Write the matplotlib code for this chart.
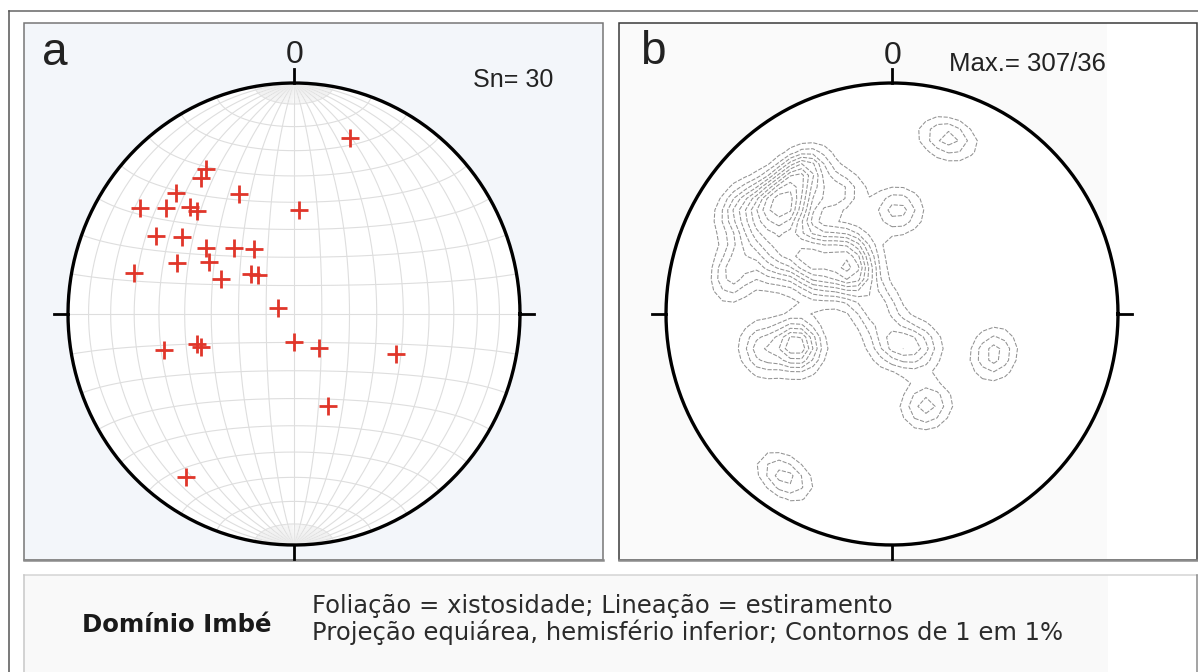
import numpy as np
import matplotlib
matplotlib.use('Agg')
import matplotlib.pyplot as plt
from matplotlib.patches import Rectangle

# --- poles to foliation (trend / plunge in degrees) ---
trend = [18, 328, 325, 315, 304, 309, 315, 316, 335, 3,
         299, 304, 306, 301, 317, 328, 293, 284, 295, 312,
         317, 290, 180, 143, 111, 255, 253, 251, 159, 214]
plunge = [21, 27, 29, 27, 19, 28, 35, 38, 42, 53,
          31, 40, 50, 54, 58, 63, 43, 28, 61, 69,
          71, 84, 80, 75, 50, 40, 53, 54, 55, 16]

n_label = 'Sn= 30'
max_label = 'Max.= 307/36'
north_label = '0'
domain = 'Domínio Imbé'
caption = ['Foliação = xistosidade; Lineação = estiramento',
           'Projeção equiárea, hemisfério inferior; Contornos de 1 em 1%']
contour_step = 1.0      # %
kernel_sigma = 5.5      # deg, smoothing of the counting

W, H = 1198, 672
fig = plt.figure(figsize=(W / 100, H / 100), dpi=100)
fig.patch.set_facecolor('white')

# --- background boxes / frame in pixel coordinates ---
bg = fig.add_axes([0, 0, 1, 1])
bg.set_xlim(0, W)
bg.set_ylim(H, 0)
bg.axis('off')

bg.plot([9, W], [11, 11], color='#666666', lw=1.1)
bg.plot([9, 9], [11, H], color='#555555', lw=1.1)

bg.add_patch(Rectangle((24, 23), 579, 537, facecolor='#f3f6fa',
                       edgecolor='#767676', lw=1.1))
bg.add_patch(Rectangle((619, 23), 488, 537, facecolor='#fafafa', edgecolor='none'))
bg.add_patch(Rectangle((1107, 23), 90, 537, facecolor='white', edgecolor='none'))
bg.add_patch(Rectangle((619, 23), 578, 537, facecolor='none',
                       edgecolor='#3a3a3a', lw=1.1))
bg.plot([24, 603], [560, 560], color='#8a8a8a', lw=1.8)
bg.plot([619, 1197], [560, 560], color='#8a8a8a', lw=1.8)

bg.add_patch(Rectangle((24, 575), 1084, 97, facecolor='#f9f9f9', edgecolor='none'))
bg.plot([24, 1197], [575, 575], color='#d4d4d4', lw=1.1)
bg.plot([24, 24], [575, H], color='#c8c8c8', lw=1.1)
bg.plot([1197, 1197], [575, H], color='#8a8a8a', lw=1.1)

lab_font = 'Liberation Sans'
bg.text(42, 65, 'a', fontsize=33, family=lab_font, color='#222222')
bg.text(640, 64, 'b', fontsize=33, family=lab_font, color='#222222')
bg.text(295, 63, north_label, fontsize=23, family=lab_font, color='#222222', ha='center')
bg.text(893, 64, north_label, fontsize=23, family=lab_font, color='#222222', ha='center')
bg.text(473, 87, n_label, fontsize=18, family=lab_font, color='#222222')
bg.text(949, 71, max_label, fontsize=18.5, family=lab_font, color='#222222')

bg.text(82, 632, domain, fontsize=17.6, fontweight='bold', family='DejaVu Sans',
        color='#1a1a1a')
bg.text(312, 613, caption[0], fontsize=17.5, family='DejaVu Sans', color='#2b2b2b')
bg.text(312, 640, caption[1], fontsize=17.5, family='DejaVu Sans', color='#2b2b2b')


def net_axes(cx, cy, rx, ry, pad=1.2):
    ax = fig.add_axes([(cx - pad * rx) / W, 1 - (cy + pad * ry) / H,
                       2 * pad * rx / W, 2 * pad * ry / H])
    ax.set_xlim(-pad, pad)
    ax.set_ylim(-pad, pad)
    ax.axis('off')
    t = np.linspace(0, 2 * np.pi, 500)
    ax.fill(np.cos(t), np.sin(t), color='white', zorder=0)
    ax.plot(np.cos(t), np.sin(t), color='black', lw=2.4, zorder=6)
    tk = 0.062
    for x0, y0, x1, y1 in [(0, 1, 0, 1 + tk), (0, -1, 0, -1 - tk),
                           (1, 0, 1 + tk, 0), (-1, 0, -1 - tk, 0)]:
        ax.plot([x0, x1], [y0, y1], color='black', lw=2.0, zorder=6)
    return ax


def schmidt(lon, lat):
    lon = np.radians(lon)
    lat = np.radians(lat)
    k = np.sqrt(2 / (1 + np.cos(lat) * np.cos(lon)))
    return k * np.cos(lat) * np.sin(lon) / np.sqrt(2), k * np.sin(lat) / np.sqrt(2)


def project(tr, pl):
    tr = np.radians(np.asarray(tr, float))
    pl = np.radians(np.asarray(pl, float))
    r = np.sqrt(2) * np.sin((np.pi / 2 - pl) / 2)
    return r * np.sin(tr), r * np.cos(tr)


# --- panel a: Schmidt net + poles ---
ax_a = net_axes(294, 314, 226, 231)
grid_kw = dict(color='#dedede', lw=0.8, zorder=1)
lat = np.linspace(-90, 90, 181)
lon = np.linspace(-90, 90, 181)
for lo in range(-80, 90, 10):
    ax_a.plot(*schmidt(np.full_like(lat, lo), lat), **grid_kw)
for la in range(-80, 90, 10):
    ax_a.plot(*schmidt(lon, np.full_like(lon, la)), **grid_kw)
cap = np.linspace(80, 90, 20)
for lo in range(-88, 90, 2):
    if lo % 10 == 0:
        continue
    ax_a.plot(*schmidt(np.full_like(cap, lo), cap), color='#ececec', lw=0.35, zorder=1)
    ax_a.plot(*schmidt(np.full_like(cap, lo), -cap), color='#ececec', lw=0.35, zorder=1)

px, py = project(trend, plunge)
ax_a.plot(px, py, linestyle='none', marker='+', markersize=13,
          markeredgewidth=2.0, color='#e0362a', zorder=7)

# --- panel b: density contours of the same poles ---
ax_b = net_axes(892, 314, 226, 231)
g = np.linspace(-1, 1, 41)
GX, GY = np.meshgrid(g, g)
GR = np.hypot(GX, GY)
inside = GR <= 1.0
gpl = np.pi / 2 - 2 * np.arcsin(np.clip(GR, 0, 1) / np.sqrt(2))
gtr = np.arctan2(GX, GY)
gv = np.stack([np.cos(gpl) * np.sin(gtr), np.cos(gpl) * np.cos(gtr), -np.sin(gpl)], -1)

tr_r = np.radians(trend)
pl_r = np.radians(plunge)
pv = np.stack([np.cos(pl_r) * np.sin(tr_r), np.cos(pl_r) * np.cos(tr_r), -np.sin(pl_r)], -1)

cosang = np.abs(gv @ pv.T).clip(0, 1)
ang = np.arccos(cosang)
s = np.radians(kernel_sigma)
dens = 100.0 / len(trend) * np.exp(-ang ** 2 / (2 * s ** 2)).sum(-1) * 0.01 / s ** 2
dens[~inside] = np.nan

levels = np.arange(contour_step, np.nanmax(dens) + 1e-9, contour_step)
ax_b.contour(GX, GY, dens, levels=levels, colors='#929292',
             linewidths=0.75, linestyles=[(0, (4, 1.5))], zorder=3)

fig.savefig('out.png', dpi=100, facecolor='white')
